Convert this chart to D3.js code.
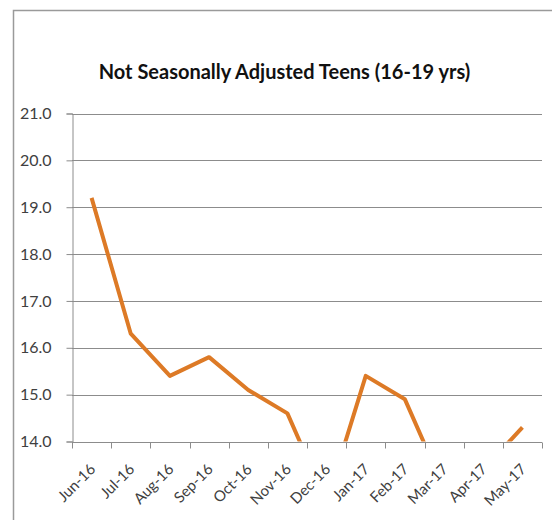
<!DOCTYPE html>
<html>
<head>
<meta charset="utf-8">
<script src="https://cdn.jsdelivr.net/npm/d3@7"></script>
<style>
  html, body { margin: 0; padding: 0; background: #fff; }
  svg { display: block; }
</style>
</head>
<body>
<svg id="chart" width="552" height="520"></svg>
<script>
// Teen (16-19 yrs) unemployment rate, not seasonally adjusted, %
const months = ["Jun-16", "Jul-16", "Aug-16", "Sep-16", "Oct-16", "Nov-16",
                "Dec-16", "Jan-17", "Feb-17", "Mar-17", "Apr-17", "May-17"];
const rates = [19.2, 16.3, 15.4, 15.8, 15.1, 14.6, 12.7, 15.4, 14.9, 13.0, 13.4, 14.3];
const yTicks = [14, 15, 16, 17, 18, 19, 20, 21];
const title = "Not Seasonally Adjusted Teens (16-19 yrs)";

const svg = d3.select("#chart");
const font = "Lato, 'Open Sans', sans-serif";

// Outer chart frame
svg.append("rect")
  .attr("x", 13.5).attr("y", 10.5)
  .attr("width", 600).attr("height", 600)
  .attr("fill", "none").attr("stroke", "#9a9a9a").attr("stroke-width", 1.5);

const plot = { left: 72, right: 542, top: 113.5, bottom: 441.5 };

const x = d3.scaleBand().domain(months).range([plot.left, plot.right]).padding(0);
const y = d3.scaleLinear().domain([14, 21]).range([plot.bottom, plot.top]);

svg.append("text")
  .attr("x", 284.5).attr("y", 78.5)
  .attr("text-anchor", "middle")
  .attr("font-family", font).attr("font-weight", "bold")
  .attr("font-size", 20).attr("fill", "#111")
  .text(title);

// Horizontal gridlines
svg.append("g").selectAll("line").data(yTicks.slice(1)).join("line")
  .attr("x1", plot.left).attr("x2", plot.right)
  .attr("y1", d => Math.round(y(d)) + 0.5).attr("y2", d => Math.round(y(d)) + 0.5)
  .attr("stroke", "#8c8c8c").attr("stroke-width", 1);

// Y axis
const yAxis = svg.append("g")
  .attr("transform", `translate(${plot.left + 0.5},0)`)
  .call(d3.axisLeft(y).tickValues(yTicks).tickFormat(d3.format(".1f")).tickSize(6).tickPadding(15));
yAxis.select(".domain").attr("stroke", "#8c8c8c");
yAxis.selectAll(".tick line").attr("stroke", "#8c8c8c");
yAxis.selectAll(".tick text")
  .attr("font-family", font).attr("font-size", 16).attr("fill", "#404040");

// X axis with tick marks on category boundaries
const xAxisG = svg.append("g").attr("transform", `translate(0,${Math.round(plot.bottom) + 0.5})`);
xAxisG.append("line")
  .attr("x1", plot.left).attr("x2", plot.right)
  .attr("stroke", "#8c8c8c");
const bounds = months.map(m => x(m)).concat([plot.right]);
xAxisG.selectAll("line.tk").data(bounds).join("line")
  .attr("class", "tk")
  .attr("x1", d => Math.round(d) + 0.5).attr("x2", d => Math.round(d) + 0.5)
  .attr("y1", 0).attr("y2", 6)
  .attr("stroke", "#8c8c8c");
xAxisG.selectAll("text").data(months).join("text")
  .attr("transform", d => `translate(${x(d) + x.bandwidth() / 2 + 1},${24}) rotate(-45)`)
  .attr("text-anchor", "end")
  .attr("dy", "0.35em")
  .attr("font-family", font).attr("font-size", 15).attr("fill", "#404040")
  .text(d => d);

// Series line, clipped to the plot area
svg.append("clipPath").attr("id", "plotClip")
  .append("rect")
  .attr("x", plot.left).attr("y", plot.top - 10)
  .attr("width", plot.right - plot.left).attr("height", plot.bottom - plot.top + 10);

const line = d3.line()
  .x((d, i) => x(months[i]) + x.bandwidth() / 2)
  .y(d => y(d));

svg.append("path")
  .datum(rates)
  .attr("clip-path", "url(#plotClip)")
  .attr("d", line)
  .attr("fill", "none")
  .attr("stroke", "#dd7a26")
  .attr("stroke-width", 4)
  .attr("stroke-linejoin", "round");
</script>
</body>
</html>
